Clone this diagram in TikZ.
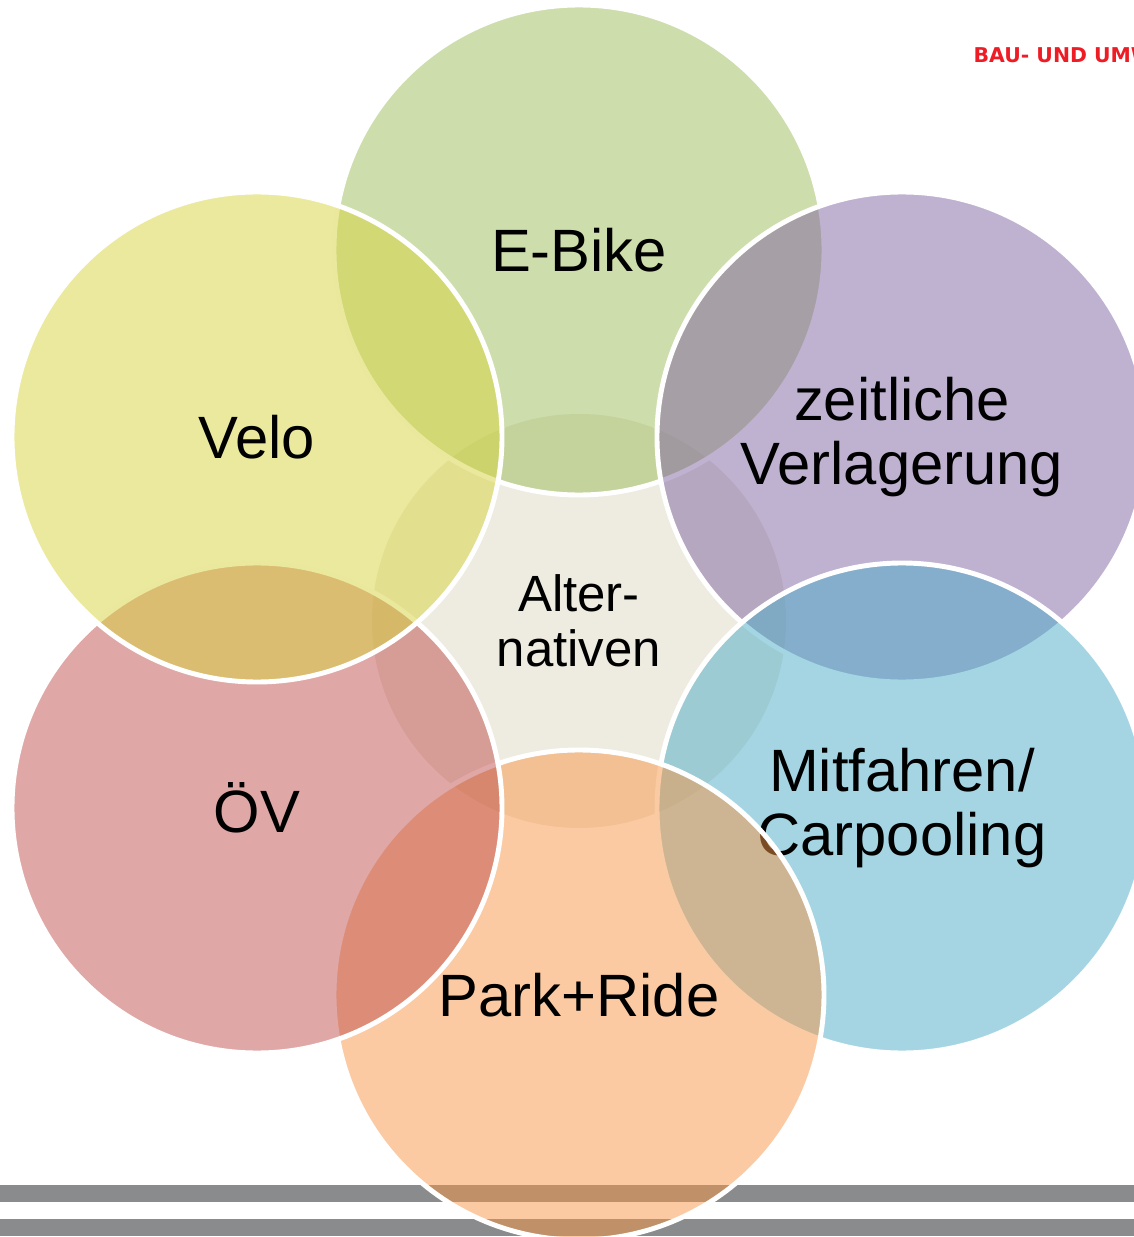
\documentclass[tikz,border=0pt]{standalone}
\usepackage{fontspec}
\setmainfont{Liberation Sans}
\newfontfamily\logofont{DejaVu Sans}
\definecolor{hub}{HTML}{EEECE1}
\definecolor{ebike}{HTML}{9BBB59}
\definecolor{shift}{HTML}{8064A2}
\definecolor{carpool}{HTML}{4BACC6}
\definecolor{parkride}{HTML}{F79646}
\definecolor{transit}{HTML}{C0504D}
\definecolor{velo}{HTML}{D7D33D}
\definecolor{bargray}{HTML}{898B8C}
\definecolor{logored}{HTML}{EE1C25}

\begin{document}
\begin{tikzpicture}[
  bubble/.style={draw=white, line width=1.4pt, circle, minimum size=4.9cm,
    inner sep=0pt, fill opacity=0.5, text opacity=1, align=center,
    font=\fontsize{17}{18}\selectfont},
  hubdisc/.style={circle, fill=hub, minimum size=4.14cm, inner sep=0pt,
    align=center, font=\fontsize{14.5}{15.6}\selectfont}
]
\useasboundingbox (0,0) rectangle (11.34,12.37);
\clip (0,0) rectangle (11.34,12.37);

% slide template
\fill[bargray] (0,0.35) rectangle (11.34,0.52);
\fill[bargray] (0,0.01) rectangle (11.34,0.18);
\node[text=logored, font=\logofont\bfseries\fontsize{5.8}{6}\selectfont,
  anchor=base west, inner sep=0pt] (logo) at (9.73,11.74) {BAU- UND UMWELTSCHUTZDIREKTION};

% radial venn
\node[hubdisc] (hub) at (5.79,6.16) {Alter-\\nativen};
\node[bubble, fill=ebike] (ebike) at (5.79,9.87) {E-Bike};
\node[bubble, fill=shift] (shift) at (9.02,8.00) {zeitliche\\Verlagerung};
\node[bubble, fill=carpool] (carpool) at (9.02,4.29) {Mitfahren/\\Carpooling};
\node[bubble, fill=parkride] (parkride) at (5.79,2.42) {Park+Ride};
\node[bubble, fill=transit] (transit) at (2.57,4.29) {ÖV};
\node[bubble, fill=velo] (velo) at (2.57,8.00) {Velo};

\end{tikzpicture}
\end{document}
